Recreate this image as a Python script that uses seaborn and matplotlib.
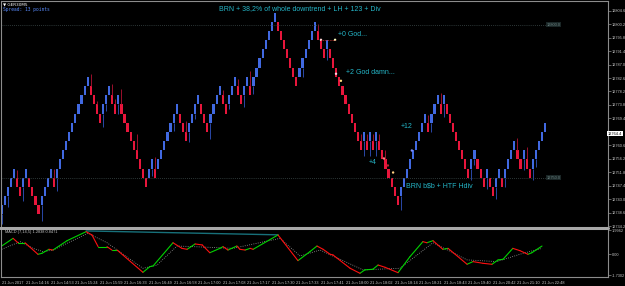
import matplotlib
matplotlib.use("Agg")
import matplotlib.pyplot as plt
import seaborn as sns
import pandas as pd
import numpy as np

# renko bricks: level of each brick in brick units (level 0 = 12750.0 .. 12753.0)
levels = [
    -4, -3, -2, -1, 0, -1, -2, -1, 0, -1,
    -2, -3, -4, -3, -2, -1, 0, -1, 0, 1,
    2, 3, 4, 5, 6, 7, 8, 9, 10, 9,
    8, 7, 6, 7, 8, 9, 8, 7, 8, 7,
    6, 5, 4, 3, 2, 1, 0, -1, 0, 1,
    0, 1, 2, 3, 4, 5, 6, 7, 6, 5,
    4, 5, 6, 7, 8, 7, 6, 5, 6, 7,
    8, 9, 8, 7, 8, 9, 10, 9, 8, 9,
    10, 9, 10, 11, 12, 13, 14, 15, 16, 17,
    16, 15, 14, 13, 12, 11, 10, 11, 12, 13,
    14, 15, 16, 15, 14, 13, 14, 13, 12, 11,
    10, 9, 8, 7, 6, 5, 4, 3, 4, 3,
    4, 3, 4, 3, 2, 1, 0, -1, -2, -3,
    -2, -1, 0, 1, 2, 3, 4, 5, 6, 5,
    6, 7, 8, 7, 8, 7, 6, 5, 4, 3,
    2, 1, 0, 1, 2, 1, 0, -1, 0, -1,
    -2, -1, 0, -1, 0, 1, 2, 3, 2, 1,
    2, 1, 0, 1, 2, 3, 4, 5,
]
brick_size = 3.0
base_price = 12750.0

# wicks: brick index and length in bricks (below a blue brick, above a red one)
wick_idx = [0, 2, 5, 7, 13, 17, 18, 29, 31, 33, 34, 36, 37, 38, 39, 44, 49, 50, 56, 60, 61, 63,
            68, 72, 74, 77, 79, 81, 82, 98, 103, 106, 117, 118, 119, 120, 121, 122, 123, 125,
            130, 139, 140, 143, 144, 153, 154, 158, 161, 164, 168, 170, 171, 173, 174]
wick_len = [1.0, 1.2, 0.8, 1.5, 1.7, 1.0, 1.5, 1.3, 0.4, 1.5, 0.7, 1.2, 0.6, 1.0, 1.7, 1.8, 0.8,
            1.3, 0.9, 1.2, 1.1, 0.6, 1.8, 0.6, 0.5, 0.8, 1.3, 1.6, 0.9, 1.0, 0.8, 1.2, 0.8, 1.6,
            0.8, 1.6, 0.8, 1.6, 0.8, 1.0, 1.5, 0.8, 1.0, 1.2, 1.4, 1.2, 0.6, 1.2, 1.3, 1.0, 1.3,
            1.2, 1.4, 1.3, 0.8]

price_ticks = [12804.6, 12800.2, 12795.8, 12791.4, 12787.0, 12782.6, 12778.2, 12773.8,
               12769.4, 12760.6, 12756.2, 12751.8, 12747.4, 12743.0, 12738.6, 12734.2]
level_lines = [12800.0, 12750.0]
last_price = 12764.4

# MACD main line and signal (bar index, value)
macd_x = [0, 3.7, 5.3, 7.6, 11.8, 13.1, 15.4, 16.7, 21.3, 27.5, 29.4, 31.4, 34.3, 35.9, 37.6,
          46.0, 48.3, 49.3, 55.8, 58.7, 60.4, 63.0, 65.3, 67.8, 71.1, 72.1, 73.7, 76.6, 77.6,
          79.3, 80.9, 81.9, 90.0, 96.5, 100.4, 102.7, 104.7, 107.0, 107.9, 113.5, 116.7, 118.3,
          120.9, 122.6, 124.9, 129.1, 133.0, 137.2, 138.5, 140.5, 143.7, 145.4, 151.6, 153.5,
          156.8, 159.7, 161.7, 163.3, 166.5, 168.8, 171.4, 172.7, 176.0]
macd_y = [0.68, 1.31, 0.95, 0.95, 0.0, 0.08, 0.41, 0.35, 1.12, 1.86, 1.59, 0.63, 0.63, 0.35, 0.35,
          -1.48, -1.01, -0.96, 0.95, 0.49, 0.41, 0.85, 0.77, 0.13, 0.49, 0.63, 0.35, 0.68, 0.41,
          0.35, 0.49, 0.41, 1.59, -0.52, 0.22, 0.68, 0.41, 0.0, -0.05, -1.15, -1.56, -1.28,
          -1.23, -0.88, -1.07, -1.51, -0.19, 1.04, 0.95, 1.12, 0.41, 0.49, -0.82, -0.60,
          -0.74, -0.82, -0.46, -0.41, 0.49, 0.30, 0.0, 0.13, 0.68]
signal_x = [0, 6.0, 10.2, 13.5, 16.7, 28.1, 34.3, 46.0, 50.6, 57.1, 62.3, 75.3, 90.7, 97.2,
            103.7, 117.7, 129.7, 140.5, 151.6, 161.3, 169.8, 176.0]
signal_y = [0.41, 1.04, 0.49, 0.22, 0.35, 1.73, 0.95, -1.15, -0.88, 0.68, 0.63, 0.49, 1.31, -0.14,
            0.35, -1.28, -1.15, 0.95, -0.46, -0.60, 0.08, 0.49]
div_x = [27.5, 90.0]
div_y = [1.92, 1.60]
macd_ticks = [1.9962, 0.0, -1.7302]
macd_tick_labels = ["1.9962", "0.00", "-1.7302"]

time_ticks = [0, 8, 16, 24, 32, 40, 48, 56, 64, 72, 80, 88, 96, 104, 112, 120, 128, 136, 144,
              152, 160, 168, 176]
time_labels = ["21 Jun 2017", "21 Jun 14:16", "21 Jun 14:53", "21 Jun 15:24", "21 Jun 15:59",
               "21 Jun 16:33", "21 Jun 16:49", "21 Jun 16:58", "21 Jun 17:00", "21 Jun 17:08",
               "21 Jun 17:17", "21 Jun 17:30", "21 Jun 17:33", "21 Jun 17:41", "21 Jun 18:00",
               "21 Jun 18:02", "21 Jun 18:14", "21 Jun 18:21", "21 Jun 18:43", "21 Jun 19:40",
               "21 Jun 20:42", "21 Jun 21:10", "21 Jun 22:48"]

# small annotation dots
dot_x = [104.0, 108.6, 108.9, 110.5, 124.5, 125.8, 127.5, 133.6]
dot_y = [12795.1, 12795.1, 12784.0, 12781.7, 12756.3, 12754.0, 12751.7, 12758.9]
dot_c = ["#ffd0d0", "#ffffc0", "#ffd0e0", "#ffe080", "#ff8080", "#c02030", "#ffd080", "#8090ff"]

BLUE = "#4169e1"
RED = "#e8163c"
TEAL = "#25b7c9"
GRAY = "#8c8c8c"

sns.set_theme(style="dark", rc={"axes.facecolor": "black", "figure.facecolor": "black"})
plt.rcParams["font.family"] = ["Liberation Sans", "DejaVu Sans"]

W, H = 625, 286
fig = plt.figure(figsize=(6.25, 2.86), dpi=100)


def frac(x0, y0, x1, y1):
    return [x0 / W, 1 - y1 / H, (x1 - x0) / W, (y1 - y0) / H]


ax = fig.add_axes(frac(1, 1, 608, 226))
axm = fig.add_axes(frac(1, 229, 608, 277))

# ---- renko panel ----
df = pd.DataFrame({"idx": range(len(levels)), "level": levels})
df["up"] = df["level"].diff().fillna(1) > 0
df["bottom"] = base_price + df["level"] * brick_size

wk = df.loc[wick_idx].copy()
wk["len"] = np.array(wick_len) * brick_size
wk["y0"] = np.where(wk["up"], wk["bottom"], wk["bottom"] + brick_size)
wk["y1"] = np.where(wk["up"], wk["y0"] - wk["len"], wk["y0"] + wk["len"])
ax.vlines(wk["idx"], wk["y0"], wk["y1"], colors=np.where(wk["up"], "#2a48a8", "#9c0f2c"), lw=0.7)

ax.bar(df["idx"], brick_size, bottom=df["bottom"], width=0.7,
       color=np.where(df["up"], BLUE, RED), linewidth=0)

for lv in level_lines:
    ax.hlines(lv, -1, 177.3, colors="#3c4a4a", linestyles=(0, (1, 1.5)), lw=0.6)
    ax.text(177.4, lv, "%.1f" % lv, fontsize=2.8, color="#6a8080", va="center", ha="left",
            bbox=dict(boxstyle="square,pad=0.15", fc="#1a2626", ec="none"))

ax.hlines(12795.1, 104.0, 108.6, colors="#c03030", linestyles=(0, (1, 1)), lw=0.6)
sns.scatterplot(x=dot_x, y=dot_y, c=dot_c, s=3, linewidth=0, ax=ax)

ax.set_xlim(-0.23, 197.5)
ax.set_ylim(12734.45, 12807.8)
ax.yaxis.tick_right()
ax.set_yticks(price_ticks)
ax.set_yticklabels(["%.1f" % v for v in price_ticks])
ax.set_xticks([])
ax.tick_params(axis="y", length=2, width=0.5, color=GRAY, labelsize=2.8, labelcolor="#c8c8c8", pad=1)
for s in ["left", "right", "top"]:
    ax.spines[s].set_visible(True)
    ax.spines[s].set_color(GRAY)
    ax.spines[s].set_linewidth(0.8)
ax.spines["bottom"].set_visible(False)
ax.grid(False)

ax.text(1.0, last_price, "%.1f" % last_price, transform=ax.get_yaxis_transform(), fontsize=2.8,
        color="black", va="center", ha="left",
        bbox=dict(boxstyle="square,pad=0.2", fc="white", ec="none"))

ann = dict(color=TEAL, fontsize=5, va="center", ha="left")
ax.text(109.5, 12797.0, "+0 God...", **ann)
ax.text(112.1, 12784.3, "+2 God damn...", **ann)
ax.text(130.1, 12766.7, "+12", **ann)
ax.text(119.6, 12755.0, "+4", **ann)
ax.text(131.7, 12747.2, "BRN b$b + HTF Hdiv", **ann)

fig.text(219 / W, 1 - 9 / H, "BRN + 38,2% of whole downtrend + LH + 123 + Div", color=TEAL,
         fontsize=5, va="center", ha="left")
fig.text(3 / W, 1 - 4 / H, "\u25bc GER30M5", color="white", fontsize=3, va="center", ha="left",
         family="DejaVu Sans")
fig.text(3 / W, 1 - 9 / H, "Spread: 13 points", color="#5a8cff", fontsize=3.3, va="center",
         ha="left", family="DejaVu Sans Mono")

# separator between panels
fig.add_artist(plt.Line2D([0, 608 / W], [1 - 227.5 / H, 1 - 227.5 / H], color="#a8a8a8", lw=2.2))

# ---- MACD panel ----
rows = []
for k in range(len(macd_x) - 1):
    d = "up" if macd_y[k + 1] >= macd_y[k] else "down"
    rows.append((k, macd_x[k], macd_y[k], d))
    rows.append((k, macd_x[k + 1], macd_y[k + 1], d))
seg = pd.DataFrame(rows, columns=["seg", "x", "y", "dir"])

sns.lineplot(x=div_x, y=div_y, color="#17707a", lw=1.0, ax=axm)
sns.lineplot(x=signal_x, y=signal_y, color="#9a9a9a", lw=0.6, linestyle=":", ax=axm)
sns.lineplot(data=seg, x="x", y="y", hue="dir", units="seg", estimator=None, sort=False,
             palette={"up": "#00d400", "down": "#ff1010"}, lw=0.8, legend=False, ax=axm)

axm.set_xlim(-0.23, 197.5)
axm.set_ylim(-1.865, 2.079)
axm.set_xlabel("")
axm.set_ylabel("")
axm.yaxis.tick_right()
axm.set_yticks(macd_ticks)
axm.set_yticklabels(macd_tick_labels)
axm.set_xticks(time_ticks)
axm.set_xticklabels(time_labels)
for lab in axm.get_xticklabels():
    lab.set_horizontalalignment("left")
axm.tick_params(axis="both", length=2, width=0.5, color=GRAY, labelsize=2.8, labelcolor="#c8c8c8",
                pad=1)
for s in ["left", "right", "bottom"]:
    axm.spines[s].set_visible(True)
    axm.spines[s].set_color(GRAY)
    axm.spines[s].set_linewidth(0.8)
axm.spines["top"].set_visible(False)
axm.grid(False)
axm.text(0.006, 0.93, "MACD (7,14,5) 1.2838 0.8471", transform=axm.transAxes, fontsize=2.8,
         color="#c8c8c8", va="center", ha="left")

fig.savefig("out.png", dpi=100, facecolor="black")
